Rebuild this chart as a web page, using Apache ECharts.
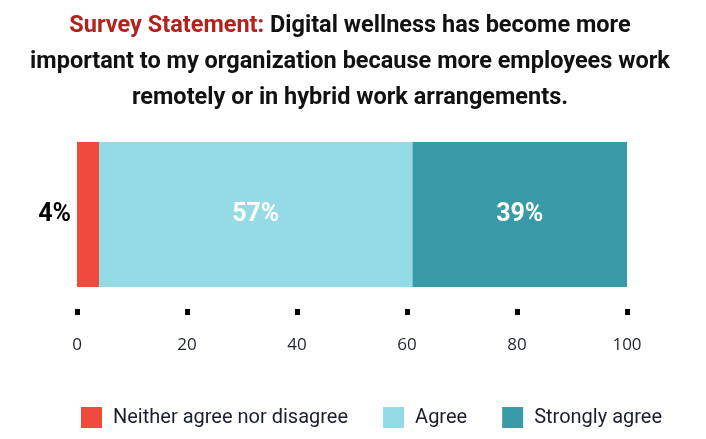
<!DOCTYPE html>
<html><head><meta charset="utf-8">
<script src="https://cdn.jsdelivr.net/npm/echarts@6/dist/echarts.min.js"></script>
<style>html,body{margin:0;padding:0;background:#fff}#c{width:706px;height:439px}</style>
</head><body><div id="c"></div>
<script>
const categories = ['Statement'];
const seriesNames = ['Neither agree nor disagree', 'Agree', 'Strongly agree'];
const neitherValues = [4];
const agreeValues = [57];
const stronglyValues = [39];
const tickValues = [0, 20, 40, 60, 80, 100];
const colors = ['#f04a3c', '#95dbe6', '#3a9ba8'];

const chart = echarts.init(document.getElementById('c'));
const font = 'Roboto, "Noto Sans", sans-serif';
const tfs = 23.5;
chart.setOption({
  animation: false,
  title: {
    left: 345, top: 3, textAlign: 'center',
    text: '{r|Survey Statement:} {b|Digital wellness has become more}\n{b|important to my organization because more employees work}\n{b|remotely or in hybrid work arrangements.}',
    textStyle: {
      fontFamily: font, fontSize: tfs, fontWeight: 'bold', lineHeight: 36, align: 'center',
      rich: {
        r: {color: '#b0231f', fontFamily: font, fontSize: tfs, fontWeight: 'bold', lineHeight: 36},
        b: {color: '#111', fontFamily: font, fontSize: tfs, fontWeight: 'bold', lineHeight: 36}
      }
    }
  },
  legend: {
    left: 76, bottom: 6, itemWidth: 21, itemHeight: 21, itemGap: 35,
    icon: 'rect',
    textStyle: {fontFamily: font, fontSize: 20, color: '#1a1f2e', padding: [0,0,0,6]},
    data: seriesNames
  },
  grid: {left: 77, right: 79, top: 142, bottom: 152},
  xAxis: {
    type: 'value', min: 0, max: 100, interval: 20, offset: 22,
    axisLine: {show: false},
    axisTick: {show: true, length: 6, lineStyle: {width: 5, color: '#000'}},
    splitLine: {show: false},
    axisLabel: {margin: 28, fontFamily: '"Open Sans", sans-serif', fontSize: 17, color: '#1d2433',
      customValues: tickValues}
  },
  yAxis: {type: 'category', data: categories, show: false},
  series: [
    {name: seriesNames[0], type: 'bar', stack: 's', barWidth: '100%', data: neitherValues,
      itemStyle: {color: colors[0]},
      label: {show: true, position: 'left', distance: 6, formatter: '{c}%', color: '#000', fontFamily: font, fontSize: 25, fontWeight: 'bold'}},
    {name: seriesNames[1], type: 'bar', stack: 's', barWidth: '100%', data: agreeValues,
      itemStyle: {color: colors[1]},
      label: {show: true, position: 'inside', formatter: '{c}%', color: '#fff', fontFamily: font, fontSize: 25, fontWeight: 'bold'}},
    {name: seriesNames[2], type: 'bar', stack: 's', barWidth: '100%', data: stronglyValues,
      itemStyle: {color: colors[2]},
      label: {show: true, position: 'inside', formatter: '{c}%', color: '#fff', fontFamily: font, fontSize: 25, fontWeight: 'bold'}}
  ]
});
</script>
</body></html>
